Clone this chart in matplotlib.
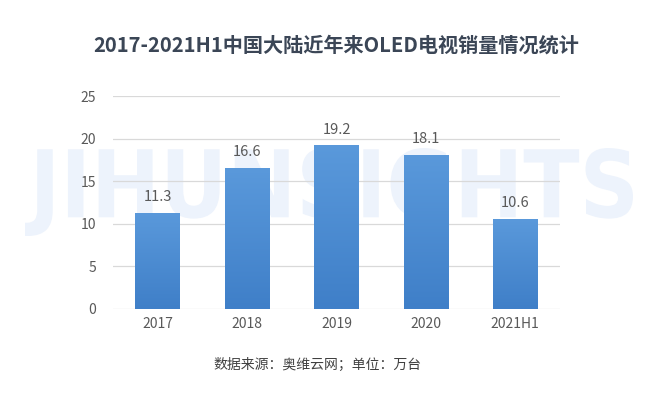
import matplotlib.pyplot as plt
import numpy as np
from matplotlib.textpath import TextPath
from matplotlib.patches import PathPatch
from matplotlib.font_manager import FontProperties
from matplotlib.transforms import Affine2D
from matplotlib.colors import LinearSegmentedColormap

plt.rcParams['font.family'] = ['Noto Sans CJK SC', 'DejaVu Sans']

# data
categories = ['2017', '2018', '2019', '2020', '2021H1']
sales = [11.3, 16.6, 19.2, 18.1, 10.6]
yticks = [0, 5, 10, 15, 20, 25]

title = '2017-2021H1中国大陆近年来OLED电视销量情况统计'
source = '数据来源：奥维云网；单位：万台'

W, H = 650, 396
fig = plt.figure(figsize=(W / 100, H / 100), dpi=100)
fig.patch.set_facecolor('white')

# watermark, squeezed into a box (pixels)
tp = TextPath((0, 0), 'JIHUNSIGHTS', size=100,
              prop=FontProperties(family='DejaVu Sans', weight='bold'))
ext = tp.get_extents()
x0, x1, ytop, ybot = 25, 633, 148, 236
sx = (x1 - x0) / ext.width
sy = (ybot - ytop) / ext.height
tr = (Affine2D().translate(-ext.x0, -ext.y0).scale(sx / W, sy / H)
      .translate(x0 / W, 1 - ybot / H))
wm = PathPatch(tp, transform=tr + fig.transFigure, facecolor='#edf3fc',
               edgecolor='none', zorder=0)
fig.patches.append(wm)

ax = fig.add_axes([113 / W, 1 - 309 / H, (560 - 113) / W, (309 - 96) / H])
ax.set_facecolor('none')
ax.set_zorder(1)

x = np.arange(len(categories))
bars = ax.bar(x, sales, width=0.5, color='#4a8ad0', zorder=2)

# vertical gradient in each bar
grad = np.linspace(0, 1, 256).reshape(-1, 1)
cmap = LinearSegmentedColormap.from_list('b', ['#3f7fc8', '#5a99db'])
for b in bars:
    bx, by = b.get_x(), b.get_y()
    bw, bh = b.get_width(), b.get_height()
    im = ax.imshow(grad, extent=[bx, bx + bw, by, by + bh], origin='lower',
                   cmap=cmap, aspect='auto', zorder=3)
    im.set_clip_path(b)

for xi, v in zip(x, sales):
    ax.text(xi, v + 1.0, f'{v:.1f}', ha='center', va='bottom',
            fontsize=10.5, color='#595959', zorder=4)

ax.set_xlim(-0.5, len(categories) - 0.5)
ax.set_ylim(0, 25)
ax.set_yticks(yticks)
ax.set_xticks(x)
ax.set_xticklabels(categories)
ax.tick_params(axis='both', length=0, labelsize=10, colors='#595959')
ax.tick_params(axis='y', pad=12)
ax.tick_params(axis='x', pad=6)
ax.grid(axis='y', color='#d9d9d9', linewidth=0.9, zorder=1)
ax.set_axisbelow(True)
for s in ax.spines.values():
    s.set_visible(False)

fig.text(336 / W, 1 - 45 / H, title, ha='center', va='center',
         fontsize=14.5, fontweight='bold', color='#3b4656')
fig.text(318 / W, 1 - 365 / H, source, ha='center', va='center',
         fontsize=10, color='#404040')

fig.savefig('out.png', dpi=100, facecolor='white')
